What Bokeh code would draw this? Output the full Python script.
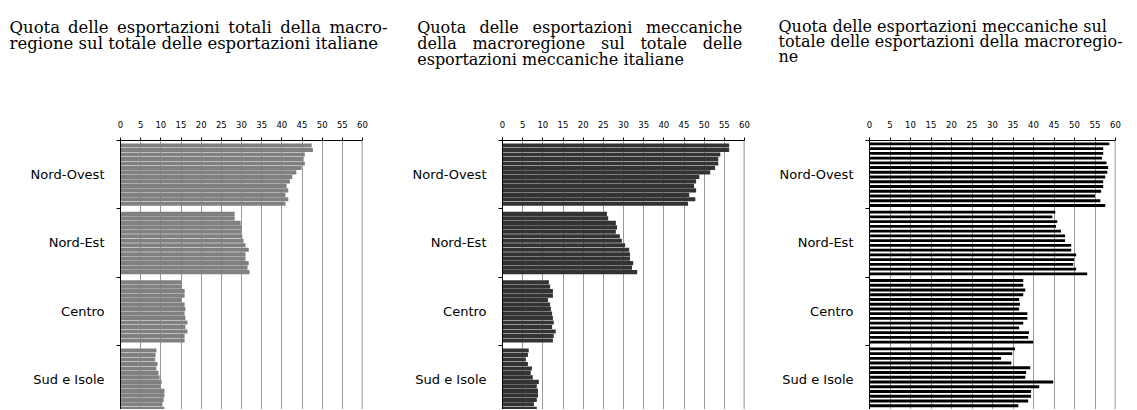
from bokeh.plotting import figure
from bokeh.layouts import column, row
from bokeh.models import Range1d, FixedTicker, Span
from bokeh.core.properties import value
from bokeh.embed import file_html
from bokeh.resources import INLINE

# ---------------- data ----------------
regions = ["Nord-Ovest", "Nord-Est", "Centro", "Sud e Isole"]
x_ticks = [0, 5, 10, 15, 20, 25, 30, 35, 40, 45, 50, 55, 60]

# Quota delle esportazioni totali della macroregione sul totale italiano
tot_nord_ovest = [47.4, 47.7, 45.7, 45.4, 45.7, 44.9, 43.6, 42.6, 42.0, 41.2, 41.6, 40.9, 41.6, 40.9]
tot_nord_est = [28.3, 28.3, 29.8, 30.0, 29.9, 30.2, 30.5, 31.0, 31.8, 31.0, 31.0, 31.8, 31.5, 32.0]
tot_centro = [15.1, 15.1, 15.9, 15.9, 15.1, 15.9, 16.1, 15.9, 16.1, 16.6, 16.1, 16.6, 15.9, 15.9]
tot_sud = [8.9, 8.7, 8.6, 9.2, 8.9, 9.4, 9.7, 10.2, 9.9, 10.9, 10.9, 10.7, 10.4, 10.9]

# Quota delle esportazioni meccaniche della macroregione sul totale meccanico italiano
mec_nord_ovest = [56.2, 56.2, 54.0, 53.5, 53.5, 52.7, 51.5, 48.8, 48.0, 47.5, 48.0, 46.3, 47.8, 46.0]
mec_nord_est = [25.9, 26.2, 28.1, 28.4, 28.1, 29.1, 29.6, 30.4, 31.4, 31.6, 31.6, 32.4, 32.1, 33.4]
mec_centro = [11.5, 11.8, 12.5, 12.5, 11.3, 11.8, 12.0, 12.3, 12.5, 12.7, 12.3, 13.2, 12.7, 12.5]
mec_sud = [6.5, 6.3, 5.8, 6.3, 7.3, 7.0, 7.5, 9.0, 8.5, 8.8, 8.8, 8.5, 7.8, 8.5]

# Quota delle esportazioni meccaniche sul totale delle esportazioni della macroregione
int_nord_ovest = [58.5, 57.0, 57.0, 56.7, 57.8, 58.2, 58.0, 57.5, 57.0, 57.0, 56.5, 55.0, 56.3, 57.5]
int_nord_est = [45.3, 44.6, 45.8, 45.5, 46.7, 47.7, 47.7, 49.2, 49.2, 50.4, 49.9, 49.7, 50.4, 53.1]
int_centro = [37.5, 37.5, 38.0, 37.5, 36.5, 36.7, 36.5, 38.5, 38.5, 37.5, 36.5, 38.9, 38.7, 39.9]
int_sud = [35.5, 34.8, 32.1, 34.6, 39.2, 38.2, 38.0, 44.8, 41.4, 39.4, 39.4, 38.7, 36.3, 39.9]

title_1 = ["Quota delle esportazioni totali della macro-",
           "regione sul totale delle esportazioni italiane"]
title_2 = ["Quota delle esportazioni meccaniche",
           "della macroregione sul totale delle",
           "esportazioni meccaniche italiane"]
title_3 = ["Quota delle esportazioni meccaniche sul",
           "totale delle esportazioni della macroregio-",
           "ne"]

# ---------------- layout constants ----------------
TOTAL_W = 1125
TITLE_H = 88
FRAME_H = 269
GROUP_PX = 68.33
TOP_BORDER = 52
TITLE_FONT = "DejaVu Serif"

# approximate advance widths (em) of DejaVu Serif, used to justify text lines
SERIF_W = {" ": .318, "a": .596, "c": .560, "d": .640, "e": .592, "g": .640,
           "h": .644, "i": .320, "l": .320, "m": .948, "n": .644, "o": .602,
           "p": .640, "r": .478, "s": .513, "t": .402, "u": .644, "z": .525,
           "Q": .787, "-": .338}


def word_width(w, size):
    return sum(SERIF_W.get(ch, .6) for ch in w) * size


def make_panel(series, color, pitch_px, bar_frac, frame_w, left_b, right_b):
    group_rows = GROUP_PX / pitch_px
    pad = (group_rows - len(series[0])) / 2.0
    ys, vals = [], []
    for g, vs in enumerate(series):
        for i, v in enumerate(vs):
            ys.append(g + (pad + i + 0.5) / group_rows)
            vals.append(v)
    visible = FRAME_H / GROUP_PX
    p = figure(frame_width=frame_w, frame_height=FRAME_H,
               x_range=Range1d(0, 60), y_range=Range1d(visible, 0),
               x_axis_location="above", output_backend="svg",
               toolbar_location=None, min_border_left=left_b,
               min_border_right=right_b, min_border_top=TOP_BORDER,
               min_border_bottom=0)
    p.hbar(y=ys, left=0, right=vals, height=bar_frac / group_rows,
           fill_color=color, line_color=None)
    p.add_layout(Span(location=60, dimension="height", line_color="#7f7f7f",
                      line_width=1.6))
    p.outline_line_color = None
    p.background_fill_color = "white"
    p.border_fill_color = "white"
    p.ygrid.grid_line_color = None
    p.xgrid.ticker = FixedTicker(ticks=x_ticks)
    p.xgrid.grid_line_color = "#9a9a9a"
    p.xgrid.grid_line_width = 1
    p.xgrid.level = "underlay"

    xa = p.xaxis[0]
    xa.ticker = FixedTicker(ticks=x_ticks)
    xa.axis_line_color = "black"
    xa.major_tick_line_color = "black"
    xa.major_tick_out = 3
    xa.major_tick_in = 0
    xa.minor_tick_line_color = None
    xa.major_label_text_font = "DejaVu Sans"
    xa.major_label_text_font_size = "8.5px"
    xa.major_label_text_color = "black"
    xa.major_label_standoff = 10

    ya = p.yaxis[0]
    centers = [g + 0.5 for g in range(len(regions))]
    bounds = [float(g) for g in range(len(regions) + 1)]
    ya.ticker = FixedTicker(ticks=centers, minor_ticks=bounds)
    ya.major_label_overrides = {c: r for c, r in zip(centers, regions)}
    ya.axis_line_color = "black"
    ya.major_tick_line_color = None
    ya.major_tick_out = 0
    ya.major_tick_in = 0
    ya.minor_tick_line_color = "black"
    ya.minor_tick_out = 4
    ya.minor_tick_in = 0
    ya.major_label_text_font = "DejaVu Sans"
    ya.major_label_text_font_size = "13px"
    ya.major_label_text_color = "black"
    ya.major_label_standoff = 12
    return p


p1 = make_panel([tot_nord_ovest, tot_nord_est, tot_centro, tot_sud], "#808080",
                4.48, 0.92, 242, 120, 18)
p2 = make_panel([mec_nord_ovest, mec_nord_est, mec_centro, mec_sud], "#333333",
                4.48, 0.92, 242, 122, 14)
p3 = make_panel([int_nord_ovest, int_nord_est, int_centro, int_sud], "#000000",
                4.745, 0.6, 246, 111, 10)

# ---------------- titles strip ----------------
t = figure(frame_width=TOTAL_W, frame_height=TITLE_H,
           x_range=Range1d(0, TOTAL_W), y_range=Range1d(TITLE_H, 0),
           x_axis_type=None, y_axis_type=None, output_backend="svg",
           toolbar_location=None, min_border=0)
t.outline_line_color = None
t.grid.grid_line_color = None


def add_lines(lines, x0, y0, dy, size, justify_to=None):
    xs, ys, txt = [], [], []
    for i, line in enumerate(lines):
        y = y0 + dy * i
        if justify_to is not None and i < len(lines) - 1:
            words = line.split(" ")
            natural = sum(word_width(w, size) for w in words)
            gap = (justify_to - x0 - natural) / (len(words) - 1)
            x = x0
            for w in words:
                xs.append(x); ys.append(y); txt.append(w)
                x += word_width(w, size) + gap
        else:
            xs.append(x0); ys.append(y); txt.append(line)
    t.text(x=xs, y=ys, text=txt, text_font=value(TITLE_FONT),
           text_font_size=f"{size}px", text_baseline="alphabetic",
           text_align="left", text_color="black")


add_lines(title_1, 9, 26.5, 16, 16.5, justify_to=387)
add_lines(title_2, 416.7, 26.5, 16, 16, justify_to=741.7)
add_lines(title_3, 778, 25.5, 15.3, 16)

layout = column(t, row(p1, p2, p3, spacing=0), spacing=0)
open("out.html", "w").write(file_html(layout, INLINE))
